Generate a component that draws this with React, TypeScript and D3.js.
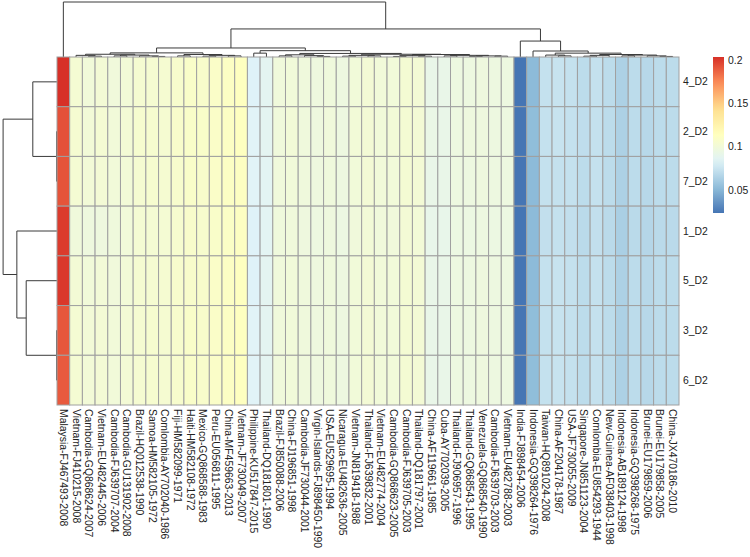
import React from "react";
import * as d3 from "d3";

type Tree = number | [Tree, Tree, number];

const colLabels = [
  "Malaysia-FJ467493-2008", "Vietnam-FJ410215-2008", "Cambodia-GQ868624-2007", "Vietnam-EU482445-2006",
  "Cambodia-FJ639707-2004", "Cambodia-GU131902-2008", "Brazil-HQ012538-1990", "Samoa-HM582105-1972",
  "Comlombia-AY702040-1986", "Fiji-HM582099-1971", "Haiti-HM582108-1972", "Mexico-GQ868588-1983",
  "Peru-EU056811-1995", "China-MF459663-2013", "Vietnam-JF730049-2007", "Philippine-KU517847-2015",
  "Thailand-DQ181801-1990", "Brazil-FJ850088-2006", "China-FJ196851-1998", "Cambodia-JF730044-2001",
  "Virgin-Islands-FJ898450-1990", "USA-EU529695-1994", "Nicaragua-EU482636-2005", "Vietnam-JN819418-1988",
  "Thailand-FJ639832-2001", "Vietnam-EU482774-2004", "Cambodia-GQ868623-2005", "Cambodia-FJ639705-2003",
  "Thailand-DQ181797-2001", "China-AF119661-1985", "Cuba-AY702039-2005", "Thailand-FJ906957-1996",
  "Thailand-GQ868543-1995", "Venezuela-GQ868540-1990", "Cambodia-FJ639703-2003", "Vietnam-EU482788-2003",
  "India-FJ898454-2006", "Indonesia-GQ398264-1976", "Taiwan-HQ891024-2008", "China-AF204178-1987",
  "USA-JF730055-2009", "Singapore-JN851123-2004", "Comlombia-EU854293-1944", "New-Guinea-AF038403-1998",
  "Indonesia-AB189124-1998", "Indonesia-GQ398268-1975", "Brunei-EU179859-2006", "Brunei-EU179858-2005",
  "China-JX470186-2010",
];

const rowLabels = ["4_D2", "2_D2", "7_D2", "1_D2", "5_D2", "3_D2", "6_D2"];

const row4D2 = [0.2035, 0.103, 0.100, 0.102, 0.099, 0.101, 0.104, 0.104, 0.104, 0.106, 0.108, 0.107, 0.109, 0.111, 0.113, 0.083, 0.087, 0.099, 0.100, 0.098, 0.097, 0.098, 0.096, 0.100, 0.102, 0.100, 0.100, 0.103, 0.102, 0.092, 0.092, 0.096, 0.096, 0.097, 0.096, 0.096, 0.0235, 0.052, 0.073, 0.074, 0.073, 0.070, 0.073, 0.070, 0.064, 0.070, 0.068, 0.070, 0.070];
const row2D2 = [0.193, 0.104, 0.101, 0.103, 0.100, 0.102, 0.105, 0.105, 0.104, 0.107, 0.108, 0.108, 0.109, 0.111, 0.113, 0.084, 0.087, 0.099, 0.101, 0.098, 0.097, 0.099, 0.096, 0.101, 0.102, 0.100, 0.101, 0.103, 0.102, 0.093, 0.092, 0.096, 0.097, 0.097, 0.096, 0.096, 0.0238, 0.053, 0.073, 0.074, 0.073, 0.071, 0.073, 0.070, 0.064, 0.070, 0.068, 0.070, 0.070];
const row7D2 = [0.192, 0.103, 0.101, 0.102, 0.100, 0.101, 0.104, 0.105, 0.104, 0.106, 0.108, 0.107, 0.109, 0.111, 0.112, 0.084, 0.086, 0.099, 0.100, 0.098, 0.097, 0.098, 0.096, 0.100, 0.102, 0.100, 0.100, 0.103, 0.102, 0.092, 0.092, 0.096, 0.096, 0.097, 0.096, 0.096, 0.0237, 0.052, 0.073, 0.073, 0.073, 0.070, 0.073, 0.070, 0.064, 0.070, 0.068, 0.070, 0.070];
const row1D2 = [0.200, 0.099, 0.097, 0.097, 0.098, 0.100, 0.103, 0.103, 0.103, 0.105, 0.107, 0.106, 0.108, 0.110, 0.112, 0.083, 0.086, 0.098, 0.099, 0.097, 0.096, 0.097, 0.095, 0.099, 0.101, 0.099, 0.099, 0.102, 0.101, 0.091, 0.091, 0.095, 0.095, 0.096, 0.095, 0.095, 0.0236, 0.052, 0.072, 0.073, 0.072, 0.069, 0.072, 0.069, 0.063, 0.069, 0.067, 0.069, 0.069];
const row5D2 = [0.201, 0.102, 0.100, 0.101, 0.099, 0.101, 0.104, 0.104, 0.104, 0.106, 0.107, 0.107, 0.109, 0.111, 0.113, 0.083, 0.087, 0.099, 0.100, 0.098, 0.097, 0.098, 0.096, 0.100, 0.102, 0.100, 0.100, 0.103, 0.102, 0.092, 0.092, 0.096, 0.096, 0.097, 0.096, 0.096, 0.0236, 0.052, 0.073, 0.074, 0.073, 0.070, 0.073, 0.070, 0.064, 0.070, 0.068, 0.070, 0.070];
const row3D2 = [0.191, 0.103, 0.101, 0.102, 0.100, 0.102, 0.104, 0.105, 0.104, 0.106, 0.108, 0.107, 0.109, 0.111, 0.113, 0.084, 0.087, 0.099, 0.100, 0.098, 0.097, 0.098, 0.096, 0.100, 0.102, 0.100, 0.100, 0.103, 0.102, 0.092, 0.092, 0.096, 0.096, 0.097, 0.096, 0.096, 0.0238, 0.053, 0.073, 0.074, 0.073, 0.070, 0.073, 0.070, 0.064, 0.070, 0.068, 0.070, 0.070];
const row6D2 = [0.190, 0.103, 0.101, 0.102, 0.100, 0.102, 0.104, 0.105, 0.104, 0.106, 0.108, 0.107, 0.109, 0.111, 0.113, 0.084, 0.087, 0.099, 0.100, 0.098, 0.097, 0.098, 0.096, 0.100, 0.102, 0.100, 0.100, 0.103, 0.102, 0.092, 0.092, 0.096, 0.096, 0.097, 0.096, 0.096, 0.0238, 0.053, 0.073, 0.074, 0.073, 0.070, 0.073, 0.070, 0.064, 0.070, 0.068, 0.070, 0.070];

const values = [row4D2, row2D2, row7D2, row1D2, row5D2, row3D2, row6D2];

const legendTicks = [0.05, 0.1, 0.15, 0.2];
const palette = ["#4575B4", "#91BFDB", "#E0F3F8", "#FFFFBF", "#FEE090", "#FC8D59", "#D73027"];

// column dendrogram (leaf indices in display order, merge heights relative to root)
const treeA: Tree = [[[1, [2, 3, 0.015], 0.03], [[4, 5, 0.02], [6, [7, 8, 0.01], 0.02], 0.035], 0.05], [[9, 10, 0.02], [[11, 12, 0.015], [13, 14, 0.02], 0.03], 0.045], 0.075];
const treeG2: Tree = [[[17, 18, 0.02], [19, [20, 21, 0.01], 0.025], 0.04], [[[22, 23, 0.015], [24, 25, 0.02], 0.03], [[[26, 27, 0.01], [28, 29, 0.015], 0.025], [[30, 31, 0.02], [[32, 33, 0.01], [34, 35, 0.015], 0.02], 0.03], 0.045], 0.05], 0.065];
const treeG: Tree = [[15, 16, 0.07], treeG2, 0.115];
const treeE: Tree = [[38, [39, 40, 0.02], 0.035], [[[41, 42, 0.015], 43, 0.03], [[44, 45, 0.02], [46, [47, 48, 0.01], 0.02], 0.035], 0.045], 0.07];
const colTree: Tree = [0, [[treeA, treeG, 0.164], [36, [37, treeE, 0.109], 0.29], 0.51], 1];

const rowTree: Tree = [[0, [1, 2, 0.006], 0.44], [3, [4, [5, 6, 0.006], 0.56], 0.73], 0.98];

type Seg = { p1: number; h1: number; p2: number; h2: number };

function layoutTree(node: Tree, leafPos: (i: number) => number, segs: Seg[]): { p: number; h: number } {
  if (typeof node === "number") return { p: leafPos(node), h: 0 };
  const a = layoutTree(node[0], leafPos, segs);
  const b = layoutTree(node[1], leafPos, segs);
  const h = node[2];
  segs.push({ p1: a.p, h1: a.h, p2: a.p, h2: h });
  segs.push({ p1: b.p, h1: b.h, p2: b.p, h2: h });
  segs.push({ p1: a.p, h1: h, p2: b.p, h2: h });
  return { p: (a.p + b.p) / 2, h };
}

export default function App() {
  const W = 750, H = 557;
  const x0 = 57, x1 = 679, y0 = 57, y1 = 405;
  const font = "'Liberation Sans', Arial, Helvetica, sans-serif";

  const xBand = d3.scaleBand<number>().domain(d3.range(colLabels.length)).range([x0, x1]).padding(0);
  const yBand = d3.scaleBand<number>().domain(d3.range(rowLabels.length)).range([y0, y1]).padding(0);

  const all = values.flat();
  const [vmin, vmax] = d3.extent(all) as [number, number];
  const color = d3
    .scaleLinear<string>()
    .domain(palette.map((_, i) => vmin + (i * (vmax - vmin)) / (palette.length - 1)))
    .range(palette)
    .interpolate(d3.interpolateRgb);

  const colSegs: Seg[] = [];
  layoutTree(colTree, (i) => (xBand(i) as number) + xBand.bandwidth() / 2, colSegs);
  const rowSegs: Seg[] = [];
  layoutTree(rowTree, (i) => (yBand(i) as number) + yBand.bandwidth() / 2, rowSegs);
  const colH = d3.scaleLinear().domain([0, 1]).range([y0, 2]);
  const rowH = d3.scaleLinear().domain([0, 1]).range([x0, 2]);

  const legX = 713, legW = 11, legTop = 57, legBot = 213;
  const legScale = d3.scaleLinear().domain([vmin, vmax]).range([legBot, legTop]);
  const gradStops = d3.range(0, 1.0001, 0.05);

  return (
    <svg width={W} height={H} style={{ position: "absolute", left: 0, top: 0, background: "#fff" }} fontFamily={font}>
      <defs>
        <linearGradient id="leg" x1="0" y1="1" x2="0" y2="0">
          {gradStops.map((t) => (
            <stop key={t} offset={t} stopColor={color(vmin + t * (vmax - vmin))} />
          ))}
        </linearGradient>
      </defs>
      <rect width={W} height={H} fill="#fff" />
      {/* column dendrogram */}
      <g stroke="#3a3a3a" strokeWidth={1} fill="none">
        {colSegs.map((s, i) => (
          <line key={i} x1={s.p1} y1={colH(s.h1)} x2={s.p2} y2={colH(s.h2)} />
        ))}
      </g>
      {/* row dendrogram */}
      <g stroke="#3a3a3a" strokeWidth={1} fill="none">
        {rowSegs.map((s, i) => (
          <line key={i} x1={rowH(s.h1)} y1={s.p1} x2={rowH(s.h2)} y2={s.p2} />
        ))}
      </g>
      {/* cells */}
      <g stroke="#a0a0a0" strokeWidth={1}>
        {values.map((row, r) =>
          row.map((v, c) => (
            <rect
              key={`${r}-${c}`}
              x={xBand(c)}
              y={yBand(r)}
              width={xBand.bandwidth()}
              height={yBand.bandwidth()}
              fill={color(v)}
            />
          ))
        )}
      </g>
      {/* row labels */}
      <g fontSize={10.4} fill="#222">
        {rowLabels.map((l, r) => (
          <text key={l} x={x1 + 4} y={(yBand(r) as number) + yBand.bandwidth() / 2} dominantBaseline="central">
            {l}
          </text>
        ))}
      </g>
      {/* column labels */}
      <g fontSize={10.4} fill="#222">
        {colLabels.map((l, c) => {
          const cx = (xBand(c) as number) + xBand.bandwidth() / 2;
          const ty = y1 + 4;
          return (
            <text key={l} x={cx} y={ty} transform={`rotate(90, ${cx}, ${ty})`} dominantBaseline="central">
              {l}
            </text>
          );
        })}
      </g>
      {/* legend */}
      <rect x={legX} y={legTop} width={legW} height={legBot - legTop} fill="url(#leg)" />
      <g fontSize={10.4} fill="#222">
        {legendTicks.map((t) => (
          <text key={t} x={legX + legW + 4} y={legScale(t)} dominantBaseline="central">
            {String(t)}
          </text>
        ))}
      </g>
    </svg>
  );
}
